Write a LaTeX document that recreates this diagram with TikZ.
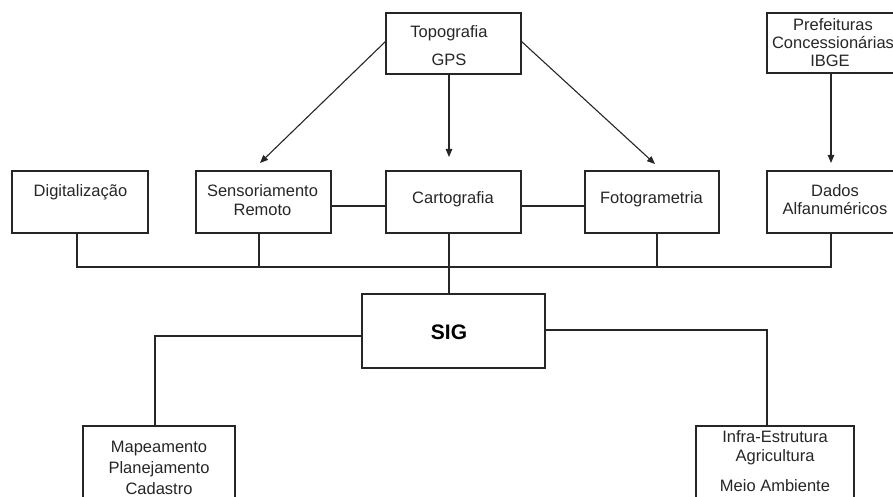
\documentclass[tikz,border=0pt]{standalone}
\usepackage{fontspec}
\setmainfont{Liberation Sans}
\usetikzlibrary{arrows.meta}
\begin{document}
\begin{tikzpicture}[x=1pt,y=-1pt,
  box/.style={draw=black!85, line width=1.1pt, inner sep=0pt, outer sep=0pt},
  txt/.style={inner sep=0pt, font=\fontsize{16.5}{19}\selectfont, text=black!85},
  conn/.style={draw=black!85, line width=1.1pt},
  arr/.style={conn, -{Triangle[length=8pt,width=6.5pt]}}]
\useasboundingbox (0,0) rectangle (893,497);
% boxes
\node[box, minimum width=135pt, minimum height=61pt] (topo) at (453.5,43.5) {};
\node[box, minimum width=136pt, minimum height=60pt] (pref) at (835,43) {};
\node[box, minimum width=136pt, minimum height=62pt] (dig) at (80,202) {};
\node[box, minimum width=135pt, minimum height=62pt] (sens) at (263.5,202) {};
\node[box, minimum width=135pt, minimum height=62pt] (cart) at (453.5,202) {};
\node[box, minimum width=134pt, minimum height=62pt] (foto) at (652,202) {};
\node[box, minimum width=136pt, minimum height=62pt] (dados) at (835,202) {};
\node[box, minimum width=183pt, minimum height=74pt] (sig) at (453.5,331) {};
\node[box, minimum width=152pt, minimum height=94pt] (map) at (159,473) {};
\node[box, minimum width=158pt, minimum height=94pt] (infra) at (775,473) {};
% texts
\node[txt] (t1) at (449,33) {Topografia};
\node[txt] (t2) at (449,60) {GPS};
\node[txt] (t3) at (833,25) {Prefeituras};
\node[txt] (t4) at (833,43) {Concessionárias};
\node[txt] (t5) at (830,61) {IBGE};
\node[txt] (t6) at (80.5,192) {Digitalização};
\node[txt] (t7) at (262.5,191) {Sensoriamento};
\node[txt] (t8) at (262.5,210) {Remoto};
\node[txt] (t9) at (453,199) {Cartografia};
\node[txt] (t10) at (651.5,199) {Fotogrametria};
\node[txt] (t11) at (835,191) {Dados};
\node[txt] (t12) at (835,209) {Alfanuméricos};
\node[txt, font=\fontsize{21}{24}\selectfont\bfseries, text=black] (t13) at (449,332) {SIG};
\node[txt] (t14) at (159,449) {Mapeamento};
\node[txt] (t15) at (159,469) {Planejamento};
\node[txt] (t16) at (159,489) {Cadastro};
\node[txt] (t17) at (775,437) {Infra-Estrutura};
\node[txt] (t18) at (775,457) {Agricultura};
\node[txt] (t19) at (775,486) {Meio Ambiente};
% coordinates
\coordinate (cx) at (449,0);
\coordinate (px) at (831,0);
\coordinate (tipS) at (260,163);
\coordinate (tipF) at (655,164);
\coordinate (tipC) at (449,157);
\coordinate (tipD) at (831,163);
\coordinate (b1) at (77,267);
\coordinate (b2) at (259,267);
\coordinate (b3) at (449,267);
\coordinate (b4) at (657,267);
\coordinate (b5) at (831,267);
\coordinate (lc) at (155,336);
\coordinate (rc) at (767,330);
% arrows
\draw[arr] ([yshift=2.5pt]topo.west) -- (tipS);
\draw[arr] ([yshift=2.5pt]topo.east) -- (tipF);
\draw[arr] (topo.south -| cx) -- (tipC);
\draw[arr] (pref.south -| px) -- (tipD);
% side links
\draw[conn] ([yshift=-4pt]sens.east) -- ([yshift=-4pt]cart.west);
\draw[conn] ([yshift=-4pt]cart.east) -- ([yshift=-4pt]foto.west);
% bus
\draw[conn] (dig.south -| b1) -- (b1) -- (b5) -- (dados.south -| b5);
\draw[conn] (sens.south -| b2) -- (b2);
\draw[conn] (foto.south -| b4) -- (b4);
\draw[conn] (cart.south -| b3) -- (sig.north -| b3);
% SIG branches
\draw[conn] (sig.west |- lc) -- (lc) -- (map.north -| lc);
\draw[conn] (sig.east |- rc) -- (rc) -- (infra.north -| rc);
\end{tikzpicture}
\end{document}
